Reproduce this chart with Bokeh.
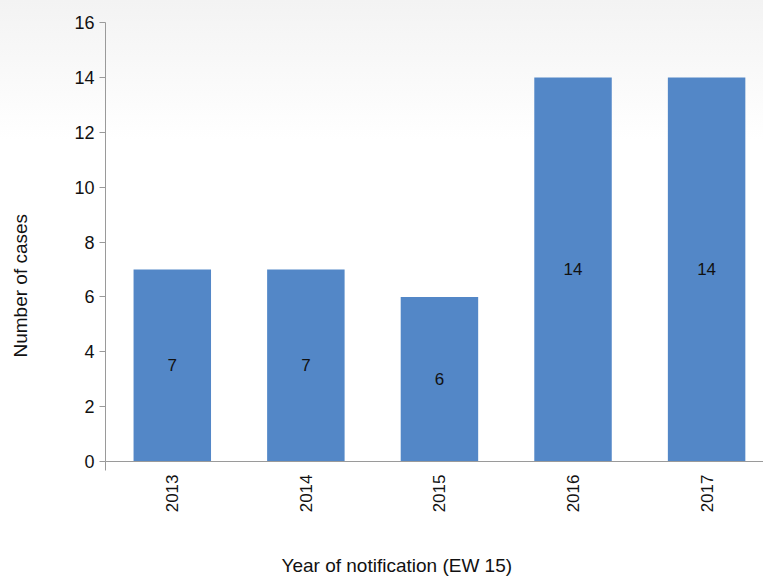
import math
from bokeh.plotting import figure
from bokeh.models import FixedTicker, Range1d, ColumnDataSource, Title
from bokeh.core.properties import value
from bokeh.embed import file_html
from bokeh.resources import INLINE

years = ["2013", "2014", "2015", "2016", "2017"]
cases = [7, 7, 6, 14, 14]
y_ticks = [0, 2, 4, 6, 8, 10, 12, 14, 16]
x_title = "Year of notification (EW 15)"
y_title = "Number of cases"

FONT = "Liberation Sans Narrow, Liberation Sans, Arial, sans-serif"
BAR = "#5387c7"
AXIS = "#9a9a9a"
TXT = "#111111"

xs = list(range(1, len(years) + 1))
src = ColumnDataSource(dict(x=xs, top=cases, mid=[c / 2 for c in cases],
                            lab=[str(c) for c in cases]))

p = figure(width=763, height=576, output_backend="svg", toolbar_location=None,
           x_range=Range1d(0.5, 5.426), y_range=Range1d(0, 16),
           min_border_left=105, min_border_right=0, min_border_top=22,
           min_border_bottom=114)
p.outline_line_color = None
p.background_fill_color = None
p.border_fill_color = None
p.styles = {"background": "linear-gradient(to bottom, #f3f3f3 0px, #ffffff 140px)"}
p.xgrid.visible = False
p.ygrid.visible = False

p.vbar(x="x", top="top", width=0.58, bottom=0, source=src,
       fill_color=BAR, line_color=None)
p.text(x="x", y="mid", text="lab", source=src, text_align="center",
       text_baseline="middle", text_font=value(FONT), text_font_size="17px",
       text_color=TXT)

xa = p.xaxis[0]
xa.ticker = FixedTicker(ticks=xs, minor_ticks=[0.5])
xa.major_label_overrides = {i: y for i, y in zip(xs, years)}
xa.major_label_orientation = math.pi / 2
xa.major_tick_out = 0
xa.major_tick_in = 0
xa.minor_tick_out = 9
xa.minor_tick_in = 0
xa.minor_tick_line_color = AXIS
xa.axis_line_color = AXIS
xa.major_label_standoff = 4
xa.major_label_text_font = FONT
xa.major_label_text_font_size = "17px"
xa.major_label_text_color = TXT

ya = p.yaxis[0]
ya.ticker = FixedTicker(ticks=y_ticks, minor_ticks=[])
ya.major_tick_out = 6
ya.major_tick_in = 0
ya.major_tick_line_color = AXIS
ya.axis_line_color = AXIS
ya.major_label_standoff = 5
ya.major_label_text_font = FONT
ya.major_label_text_font_size = "18px"
ya.major_label_text_color = TXT

# blank spacer panels push the axis titles outwards
p.add_layout(Title(text=" ", standoff=13, text_font=FONT, text_font_size="19px"), "below")
p.add_layout(Title(text=" ", standoff=17, text_font=FONT, text_font_size="19px"), "left")

p.add_layout(Title(text=x_title, align="left", offset=176, standoff=2,
                   text_font=FONT, text_font_size="19px", text_font_style="normal",
                   text_color=TXT), "below")
p.add_layout(Title(text=y_title, align="left", offset=104, standoff=2,
                   text_font=FONT, text_font_size="19px", text_font_style="normal",
                   text_color=TXT), "left")

open("out.html", "w").write(file_html(p, INLINE))
